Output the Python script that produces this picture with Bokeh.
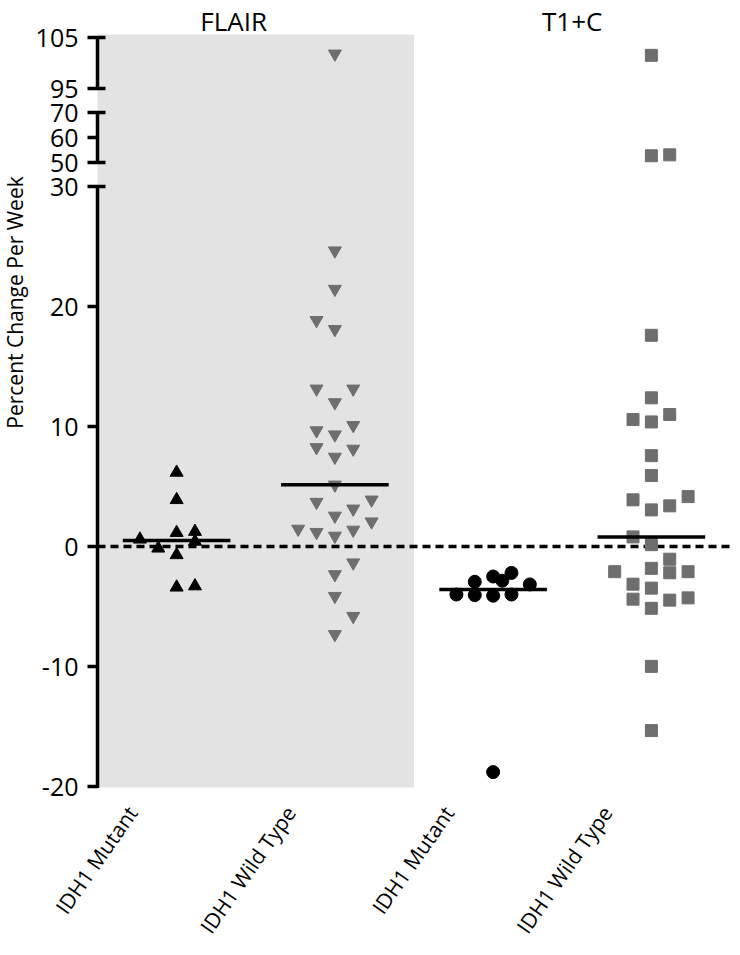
import numpy as np
from bokeh.plotting import figure
from bokeh.models import Range1d, BoxAnnotation
from bokeh.core.properties import value
from bokeh.embed import file_html
from bokeh.resources import INLINE

# ---------------- data ----------------
panels = ["FLAIR", "T1+C"]
groups = ["IDH1 Mutant", "IDH1 Wild Type", "IDH1 Mutant", "IDH1 Wild Type"]
y_title = "Percent Change Per Week"

# percent change per week, with beeswarm column index of each point
flair_mut = [6.17, 3.89, 1.15, 1.24, 0.6, 0.42, -0.15, -0.7, -3.4, -3.3]
flair_mut_col = [0, 0, 0, 1, -2, 1, -1, 0, 0, 1]

flair_wt = [101.8, 24.65, 21.45, 18.85, 18.1, 13.14, 13.14, 12.0, 10.1, 9.66,
            9.32, 8.26, 8.13, 7.46, 5.14, 3.89, 3.7, 3.14, 2.55, 2.07,
            1.46, 1.19, 1.38, 0.88, -1.35, -2.33, -4.14, -5.81, -7.32]
flair_wt_col = [0, 0, 0, -1, 0, -1, 1, 0, 1, -1,
                0, -1, 1, 0, 0, 2, -1, 1, 0, 2,
                -2, -1, 1, 0, 1, 0, 0, 1, 0]

t1_mut = [-4.0, -4.05, -4.1, -4.0, -2.94, -2.5, -2.85, -2.2, -3.16, -18.8]
t1_mut_col = [-2, -1, 0, 1, -1, 0, 0.5, 1, 2, 0]

t1_wt = [101.5, 53.06, 52.7, 17.6, 12.39, 11.0, 10.58, 10.38, 7.57, 5.92,
         4.16, 3.89, 3.39, 3.05, 0.8, 0.15, -1.06, -1.82, -2.1, -2.19,
         -2.1, -3.14, -3.47, -4.28, -4.39, -4.47, -5.15, -9.99, -15.34]
t1_wt_col = [0, 1, 0, 0, 0, 1, -1, 0, 0, 0,
             2, -1, 1, 0, -1, 0, 1, 0, -2, 1,
             2, -1, 0, 2, -1, 1, 0, 0, 0]

y_ticks = [-20, -10, 0, 10, 20, 30, 50, 60, 70, 95, 105]
axis_pieces = [(-20, 30), (50, 70), (95, 105)]
cap_values = [30, 50, 70, 95, 105]


# broken-axis mapping: value -> display coordinate (1 display unit ~ 1 px)
def disp(v):
    v = np.asarray(v, dtype=float)
    return np.where(v <= 40, (v + 20) * 12.0,
                    np.where(v <= 82.5, 624 + (v - 50) * 2.5,
                             698 + (v - 95) * 5.1))


FONT = "Open Sans"
GRAY = "#6e6e6e"
STEP = 0.116
centers = [0.5, 1.5, 2.5, 3.5]

W, H = 730, 946
LEFT_PAD = 97                 # px between canvas edge and the y axis line
PXU = (W - LEFT_PAD) / 4.0    # px per category unit
BOTTOM_PAD = 160              # px below the -20 line
px = lambda n: n / PXU        # horizontal px -> data units

p = figure(width=W, height=H,
           x_range=Range1d(-px(LEFT_PAD), 4),
           y_range=Range1d(-BOTTOM_PAD, H - BOTTOM_PAD),
           x_axis_location=None, y_axis_location=None,
           output_backend="svg", toolbar_location=None,
           min_border_left=0, min_border_right=0, min_border_top=0, min_border_bottom=0)
p.grid.visible = False
p.outline_line_color = None
p.background_fill_color = "white"

# shaded FLAIR panel
p.add_layout(BoxAnnotation(left=0, right=2, bottom=float(disp(-20)) - 1,
                           top=float(disp(105)) + 3, fill_color="#e3e3e3",
                           fill_alpha=1.0, line_color=None, level="underlay"))

# ---- broken y axis ----
for lo, hi in axis_pieces:
    p.segment(x0=0, y0=float(disp(lo)) - 1.5, x1=0, y1=float(disp(hi)) + 1.5,
              line_width=3.5, line_color="black")
ty = disp(y_ticks)
p.segment(x0=[-px(10)] * len(y_ticks), y0=ty, x1=[0] * len(y_ticks), y1=ty,
          line_width=3.5, line_color="black")
cy = disp(cap_values)
p.segment(x0=[0] * len(cap_values), y0=cy, x1=[px(8)] * len(cap_values), y1=cy,
          line_width=3.5, line_color="black")
p.text(x=[-px(19)] * len(y_ticks), y=ty, text=[str(v) for v in y_ticks],
       text_align="right", text_baseline="middle", text_font=value(FONT),
       text_font_size="25px", text_color="black")
p.text(x=[-px(83)], y=[484], text=[y_title], angle=np.pi / 2,
       text_align="center", text_baseline="middle", text_font=value(FONT),
       text_font_size="21px", text_color="black")

# ---- panel titles ----
p.text(x=[0.86, 3.0], y=[766, 766], text=panels, text_align="center",
       text_baseline="middle", text_font=value(FONT), text_font_size="26px",
       text_color="black")

# ---- category labels ----
p.text(x=[c - 0.28 for c in centers], y=[-22] * len(centers), text=groups,
       angle=0.96, text_align="right", text_baseline="middle",
       text_font=value(FONT), text_font_size="21px", text_color="black")

# ---- zero reference ----
z = float(disp(0))
p.line(x=[0, 4], y=[z, z], line_color="black", line_width=3.3, line_dash="8 5")

# ---- points and medians ----
series = [
    (flair_mut, flair_mut_col, "triangle", "black", 13),
    (flair_wt, flair_wt_col, "inverted_triangle", GRAY, 13),
    (t1_mut, t1_mut_col, "circle", "black", 13),
    (t1_wt, t1_wt_col, "square", GRAY, 12),
]
for c, (vals, cols, mk, col, sz) in zip(centers, series):
    xs = c + np.asarray(cols, dtype=float) * STEP
    p.scatter(x=xs, y=disp(vals), marker=mk, size=sz, fill_color=col, line_color=col)
    med = float(disp(np.median(vals)))
    p.segment(x0=c - 0.34, y0=med, x1=c + 0.34, y1=med, line_width=3.5, line_color="black")

open("out.html", "w").write(file_html(p, INLINE))
